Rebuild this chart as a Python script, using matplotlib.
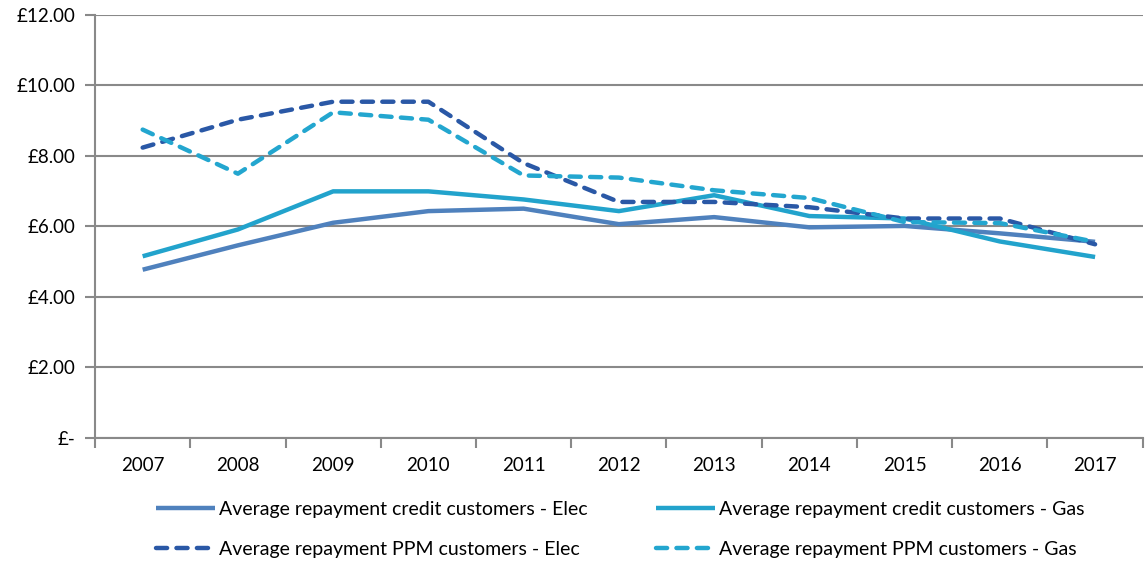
import matplotlib.pyplot as plt
import numpy as np
from matplotlib.ticker import FuncFormatter

years = ["2007", "2008", "2009", "2010", "2011", "2012", "2013", "2014", "2015", "2016", "2017"]
credit_elec = [4.77, 5.46, 6.10, 6.43, 6.50, 6.06, 6.26, 5.97, 6.01, 5.80, 5.56]
credit_gas = [5.15, 5.91, 6.99, 6.99, 6.76, 6.43, 6.88, 6.29, 6.22, 5.57, 5.13]
ppm_elec = [8.23, 9.02, 9.53, 9.53, 7.79, 6.69, 6.69, 6.54, 6.22, 6.22, 5.49]
ppm_gas = [8.74, 7.49, 9.23, 9.02, 7.44, 7.38, 7.02, 6.80, 6.12, 6.09, 5.56]

labels = [
    "Average repayment credit customers - Elec",
    "Average repayment credit customers - Gas",
    "Average repayment PPM customers - Elec",
    "Average repayment PPM customers - Gas",
]

plt.rcParams['font.family'] = ['Lato', 'DejaVu Sans']

fig = plt.figure(figsize=(11.45, 5.62), dpi=100)
ax = fig.add_axes([0.083, 0.2206, 0.915, 0.7535])

x = np.arange(len(years))
grid_c = "#898989"

l1, = ax.plot(x, credit_elec, color="#4F81BD", lw=3.2, solid_joinstyle="round", solid_capstyle="butt")
l2, = ax.plot(x, credit_gas, color="#22A3CC", lw=3.2, solid_joinstyle="round", solid_capstyle="butt")
l3, = ax.plot(x, ppm_elec, color="#2A58A6", lw=3.2, dashes=(2.5, 2.1), dash_capstyle="round", dash_joinstyle="round")
l4, = ax.plot(x, ppm_gas, color="#23A6CF", lw=3.2, dashes=(2.5, 2.1), dash_capstyle="round", dash_joinstyle="round")

ax.set_xlim(-0.5, len(years) - 0.5)
ax.set_ylim(0, 12)
ax.set_yticks(np.arange(0, 13, 2))
ax.yaxis.set_major_formatter(FuncFormatter(lambda v, p: "£-" if v == 0 else f"£{v:.2f}"))
ax.set_xticks(x)
ax.set_xticklabels(years)
ax.set_xticks(np.arange(-0.5, len(years), 1), minor=True)
ax.tick_params(axis="x", which="major", length=0, pad=14, labelsize=13.5, colors="black")
ax.tick_params(axis="x", which="minor", length=7, width=1.5, color=grid_c)
ax.tick_params(axis="y", length=7, width=1.5, color=grid_c, labelsize=13.5, pad=7)

ax.grid(axis="y", color=grid_c, lw=1.5)
ax.set_axisbelow(True)
for s in ["top", "right"]:
    ax.spines[s].set_visible(False)
ax.spines["left"].set_color(grid_c)
ax.spines["left"].set_linewidth(1.5)
ax.spines["bottom"].set_color(grid_c)
ax.spines["bottom"].set_linewidth(1.5)

# legend filled row by row like the original
fig.legend([l1, l3, l2, l4], [labels[0], labels[2], labels[1], labels[3]],
           loc="center", bbox_to_anchor=(0.542, 0.058), ncol=2,
           frameon=False, fontsize=14, handlelength=3.0, handletextpad=0.25,
           columnspacing=3.5, labelspacing=1.15)

fig.savefig("out.png", dpi=100)
